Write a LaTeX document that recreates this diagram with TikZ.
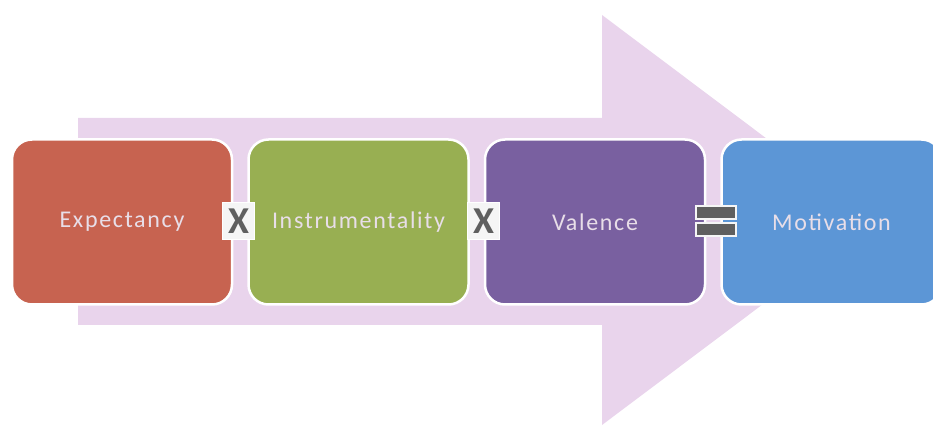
\documentclass[tikz,border=0pt]{standalone}
\usepackage{fontspec}
\setmainfont{Carlito}
\newfontfamily\stagefont[LetterSpace=7]{Carlito}
\usetikzlibrary{positioning}

\definecolor{arrowpink}{RGB}{233,212,236}
\definecolor{expred}{RGB}{199,99,80}
\definecolor{insgreen}{RGB}{152,175,82}
\definecolor{valpurple}{RGB}{121,96,160}
\definecolor{motblue}{RGB}{92,150,214}
\definecolor{opgray}{RGB}{95,95,95}
\definecolor{textlight}{RGB}{232,222,232}

\begin{document}
\begin{tikzpicture}[
		x=1pt, y=1pt,
		every node/.style={font=\stagefont\fontsize{24}{28}\selectfont},
		stagebox/.style={rectangle, rounded corners=20pt, draw=white, line width=2.5pt,
			minimum width=220pt, minimum height=165pt, text=textlight, inner sep=0pt},
		opbox/.style={rectangle, fill=white!92!gray, draw=white, line width=1pt,
			minimum width=32pt, minimum height=37pt, inner sep=0pt, text=opgray,
			font=\rmfamily\fontsize{38}{38}\selectfont\bfseries},
		eqbar/.style={rectangle, fill=opgray, draw=white!92!gray, line width=2pt,
			minimum width=40pt, minimum height=13pt, inner sep=0pt}
	]
  \useasboundingbox (0,0) rectangle (933,428);
  % big arrow behind the boxes
  \fill[arrowpink] (78,310) -- (602,310) -- (602,413) -- (875,208)
    -- (602,3) -- (602,103) -- (78,103) -- cycle;
  % stages
  \node (expect) [stagebox, fill=expred] at (122,206) {Expectancy};
  \node (instr) [stagebox, fill=insgreen, right=14pt of expect] {Instrumentality};
  \node (valence) [stagebox, fill=valpurple, right=14pt of instr] {Valence};
  \node (motiv) [stagebox, fill=motblue, right=14pt of valence] {Motivation};
  % operators
  \node (times_a) [opbox] at (238.5,207) {X};
  \node (times_b) [opbox] at (483.5,207) {X};
  \node (eq_top) [eqbar] at (716,215) {};
  \node (eq_bot) [eqbar, below=2pt of eq_top] {};
\end{tikzpicture}
\end{document}
